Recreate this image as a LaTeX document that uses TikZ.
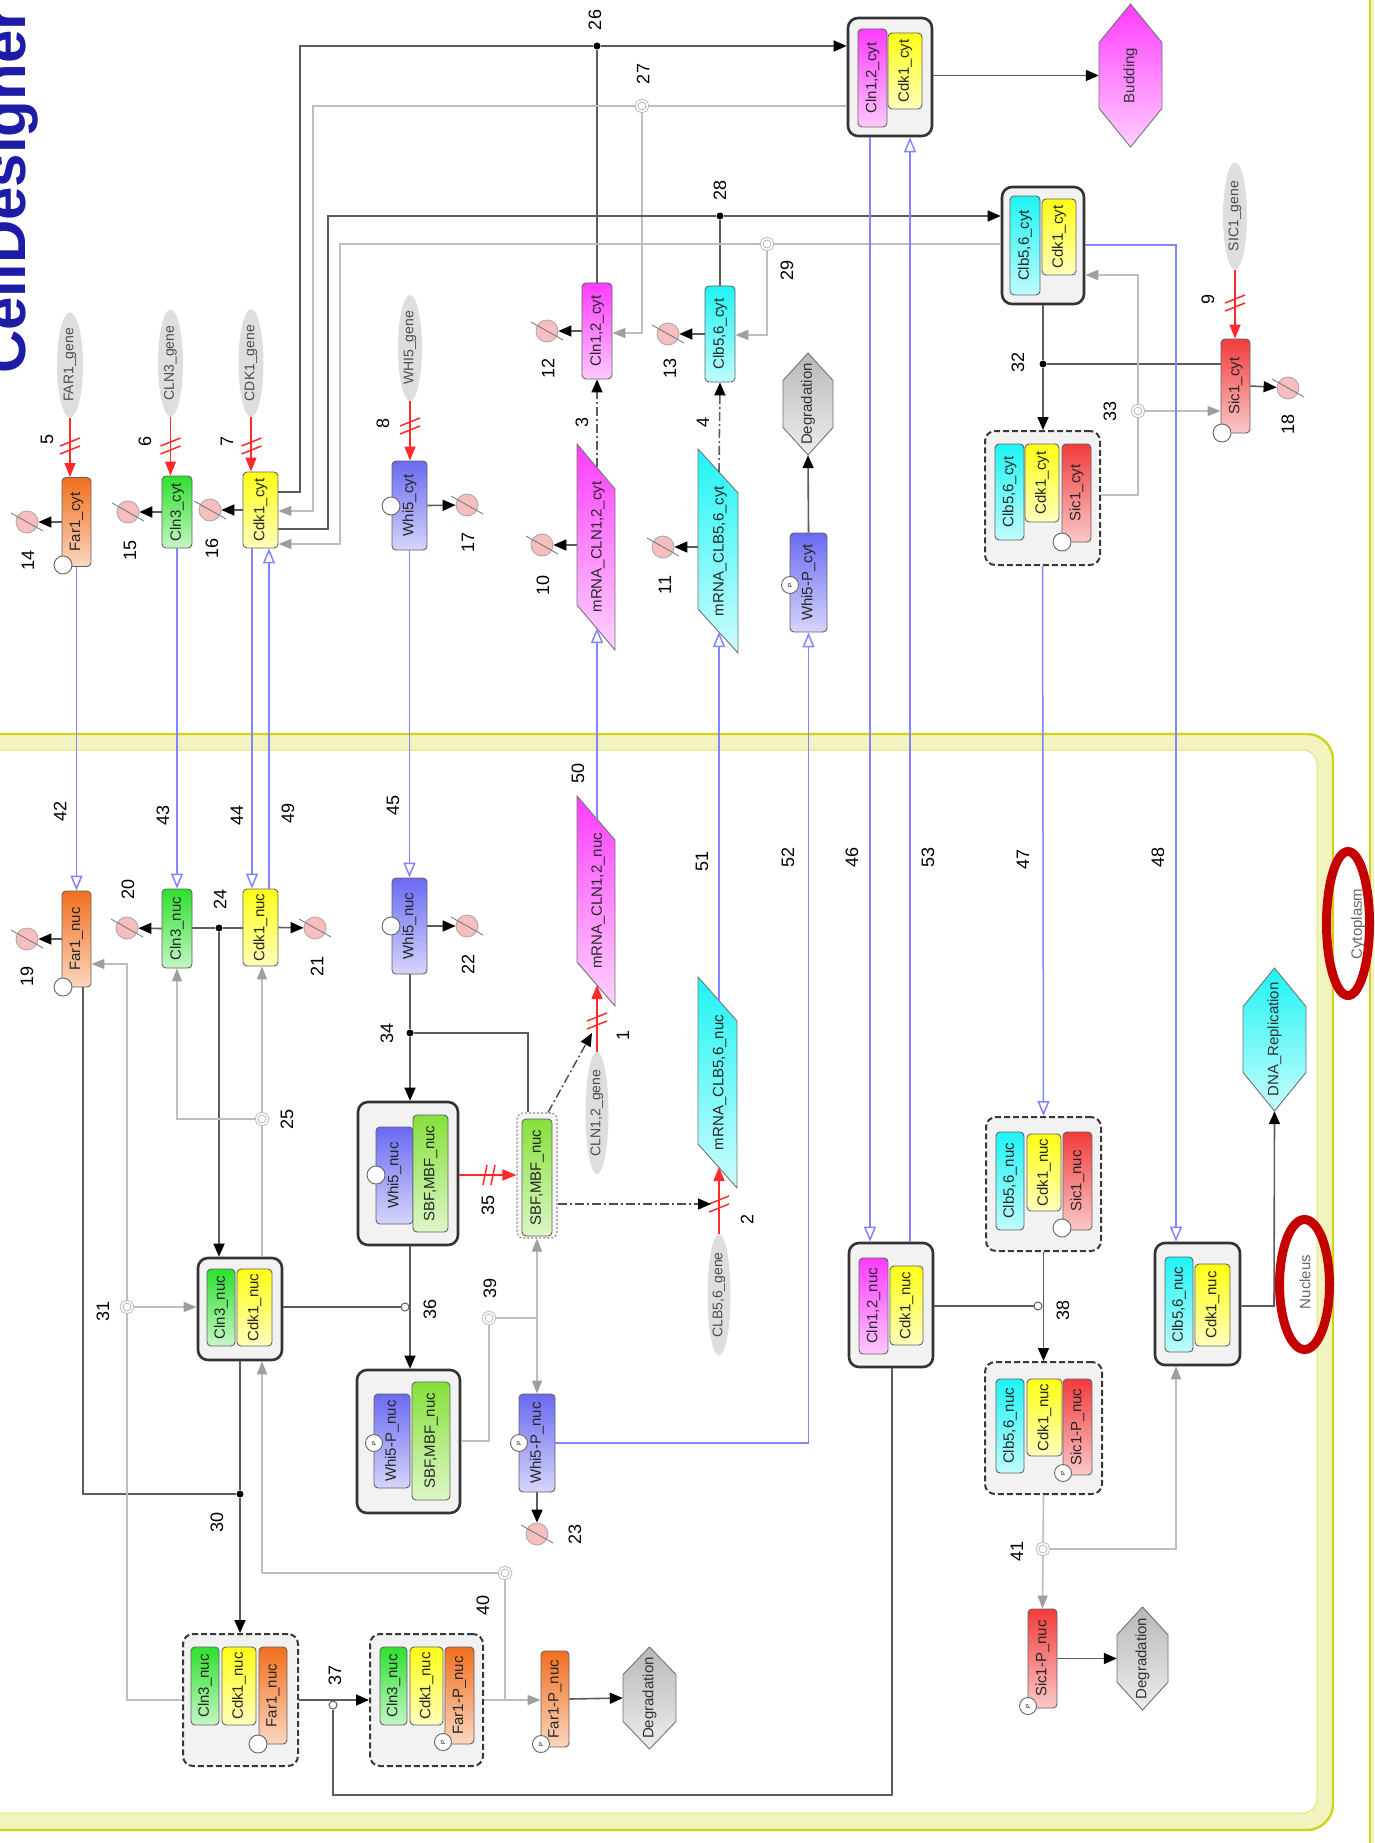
\documentclass[tikz,border=0pt]{standalone}
\usepackage{fontspec}
\setmainfont{Liberation Sans}
\usetikzlibrary{arrows.meta,shapes.geometric}
\definecolor{dkline}{HTML}{5C5C5C}
\definecolor{ltline}{HTML}{BEBEBE}
\definecolor{blline}{HTML}{8484FF}
\definecolor{rdline}{HTML}{FF2A2A}
\definecolor{cOr}{HTML}{F26F1E}
\definecolor{cGr}{HTML}{2EE02E}
\definecolor{cYe}{HTML}{FFFF14}
\definecolor{cBl}{HTML}{6A6AF2}
\definecolor{cMa}{HTML}{FF3CFF}
\definecolor{cCy}{HTML}{1EF4F4}
\definecolor{cRd}{HTML}{F23C3C}
\definecolor{cSb}{HTML}{86E03A}
\definecolor{cGy}{HTML}{B8B8B8}
\definecolor{titleblue}{HTML}{1C1CA6}
\definecolor{nucband}{HTML}{F3F3C0}
\definecolor{nucedge}{HTML}{D2D21A}
\definecolor{nucinner}{HTML}{E2E27A}
\definecolor{ringred}{HTML}{C40000}
\definecolor{degpink}{HTML}{F6BEBE}
\newcommand{\rt}[1]{\rotatebox{90}{#1}}
\tikzset{
  sp/.style={draw=black!62, line width=0.9pt, rounded corners=4pt, inner sep=0pt, font=\fontsize{15}{15}\selectfont, text=black!85},
  cpx/.style={draw=black!80, line width=2.6pt, rounded corners=10pt, fill=black!5, inner sep=0pt},
  cpxd/.style={draw=black!78, line width=2pt, dash pattern=on 6pt off 3pt, rounded corners=10pt, fill=black!5, inner sep=0pt},
  gene/.style={ellipse, fill=black!13, draw=none, inner sep=0pt, font=\fontsize{14}{14}\selectfont, text=black!70},
  numl/.style={inner sep=0pt, font=\fontsize{18}{18}\selectfont, text=black},
  emptyc/.style={circle, draw=black!60, fill=white, line width=0.9pt, minimum size=18pt, inner sep=0pt},
  pcirc/.style={circle, draw=black!60, fill=white, line width=0.9pt, minimum size=17pt, inner sep=0pt, font=\fontsize{6}{6}\selectfont},
  degs/.style={circle, draw=black!35, fill=degpink, line width=0.8pt, minimum size=22pt, inner sep=0pt},
  jdot/.style={circle, fill=black, inner sep=0pt, minimum size=7pt},
  jgray/.style={circle, draw=ltline, double=white, double distance=1.6pt, line width=1pt, fill=white, inner sep=0pt, minimum size=11pt},
  jmod/.style={circle, draw=dkline, fill=white, line width=1pt, inner sep=0pt, minimum size=8pt},
  dk/.style={draw=dkline, line width=1.6pt},
  lt/.style={draw=ltline, line width=1.6pt},
  bl/.style={draw=blline, line width=1.5pt},
  rd/.style={draw=rdline, line width=1.5pt},
  arrk/.style={-{Triangle[length=13pt,width=11pt,color=black]}},
  arrg/.style={-{Triangle[length=13pt,width=10pt,color=black!38]}},
  arrr/.style={-{Triangle[length=14pt,width=11pt,color=rdline]}},
  arro/.style={-{Triangle[open,length=15pt,width=12pt,color=blline,fill=white]}},
  dashdot/.style={dash pattern=on 9pt off 3pt on 2pt off 3pt},
}
\newcommand{\spc}[6]{\node[sp, top color=#5, bottom color=#5!28!white, minimum width=#3pt, minimum height=#4pt] (#1) at (#2) {\rt{#6}};}
\newcommand{\gene}[5]{\node[gene, minimum width=#3pt, minimum height=#4pt] (#1) at (#2) {\rt{#5}};}
\newcommand{\dsym}[2]{\node[degs] (#1) at (#2) {}; \draw[black!55, line width=0.8pt] (#1.center) ++(-16,-9) -- ++(32,18);}
\newcommand{\lab}[3]{\node[numl] (#1) at (#2) {\rt{#3}};}
\newcommand{\hexn}[7]{\path[draw=black!55, line width=0.9pt, top color=#6, bottom color=#6!25!white] ({#2},{#3-#5/2}) -- ({#2+#4/2},{#3-#5*0.23}) -- ({#2+#4/2},{#3+#5*0.23}) -- ({#2},{#3+#5/2}) -- ({#2-#4/2},{#3+#5*0.23}) -- ({#2-#4/2},{#3-#5*0.23}) -- cycle;
  \node[inner sep=0pt, minimum width=#4pt, minimum height=#5pt, font=\fontsize{15}{15}\selectfont, text=black!80] (#1) at (#2,#3) {\rt{#7}};}
\newcommand{\mrna}[8]{\path[draw=black!55, line width=0.9pt, top color=#7, bottom color=#7!22!white] (#2,#4) -- (#3,{#4+#6}) -- (#3,{#5+#6}) -- (#2,#5) -- cycle;
  \node[inner sep=0pt, font=\fontsize{15}{15}\selectfont, text=black!85] (#1) at ({(#2+#3)/2+2},{(#4+#5+#6)/2}) {\rt{#8}};}
\newcommand{\hashv}[2]{\draw[rd] ({#1-10},{#2+8}) -- ({#1+10},{#2}) ({#1-10},{#2}) -- ({#1+10},{#2-8});}
\newcommand{\hashh}[2]{\draw[rd] ({#1-7},{#2+10}) -- ({#1-3},{#2-10}) ({#1+1},{#2+10}) -- ({#1+5},{#2-10});}
\begin{document}
\begin{tikzpicture}[x=1pt,y=-1pt]
\clip (0,0) rectangle (1374,1843);
\useasboundingbox (0,0) rectangle (1374,1843);
\fill[white] (0,0) rectangle (1374,1843);
% compartments
\path[fill=nucband, draw=nucedge, line width=2.4pt, rounded corners=26pt] (-30,734) rectangle (1333,1830);
\path[fill=white, draw=nucinner, line width=1pt, rounded corners=14pt] (-14,750) rectangle (1317,1813);
\fill[nucband] (1370,-5) rectangle (1380,1850);
\draw[nucedge, line width=2pt] (1370,-5) -- (1370,1850);
% title
\node[anchor=base west, rotate=90, inner sep=0pt, font=\fontsize{60}{60}\selectfont\bfseries, text=titleblue] (title) at (25,374) {CellDesigner};
% compartment labels
\node[inner sep=0pt, font=\fontsize{15}{15}\selectfont, text=black!60] (cytlab) at (1358,924) {\rt{Cytoplasm}};
\node[inner sep=0pt, font=\fontsize{15}{15}\selectfont, text=black!60] (nuclab) at (1305,1282) {\rt{Nucleus}};
\draw[ringred, line width=9pt] (1348,923.5) ellipse [x radius=21.5, y radius=72];
\draw[ringred, line width=9pt] (1304.5,1284.5) ellipse [x radius=25, y radius=65];

% ---------- genes
\gene{far1g}{70,365}{26}{105}{FAR1\_gene}
\gene{cln3g}{170.5,363}{25}{107}{CLN3\_gene}
\gene{cdk1g}{251,363}{25}{107}{CDK1\_gene}
\gene{whi5g}{410,348}{24}{106}{WHI5\_gene}
\gene{sic1g}{1235,216}{24}{107}{SIC1\_gene}
\gene{cln12g}{597,1113}{23}{107}{CLN1,2\_gene}
\gene{clb56g}{719,1295}{23}{110}{CLB5,6\_gene}

% ---------- cytoplasm species
\spc{far1c}{76.5,522}{29}{89}{cOr}{Far1\_cyt}
\node[emptyc] (ec1) at (63,565) {};
\spc{cln3c}{177,512}{30}{72}{cGr}{Cln3\_cyt}
\spc{cdk1c}{260.5,510}{35}{76}{cYe}{Cdk1\_cyt}
\spc{whi5c}{409.5,505.5}{35}{89}{cBl}{Whi5\_cyt}
\node[emptyc] (ec2) at (391,506) {};
\spc{cln12c}{597,331}{30}{96}{cMa}{Cln1,2\_cyt}
\spc{clb56c}{720,334}{30}{96}{cCy}{Clb5,6\_cyt}
\spc{whi5pc}{808.5,582.5}{37}{99}{cBl}{Whi5-P\_cyt}
\node[pcirc] (pc1) at (790,585) {\rt{P}};
\spc{sic1c}{1235.5,386}{29}{94}{cRd}{Sic1\_cyt}
\node[emptyc] (ec3) at (1222,433) {};
\mrna{mcc}{577}{615}{444}{605}{45}{cMa}{mRNA\_CLN1,2\_cyt}
\mrna{mbc}{698}{738}{449}{609}{44}{cCy}{mRNA\_CLB5,6\_cyt}
\hexn{degc}{808}{404}{50}{102}{cGy}{Degradation}
\hexn{bud}{1130.5}{75.5}{63}{143}{cMa}{Budding}
% cytoplasm complexes
\node[cpx, minimum width=84pt, minimum height=118pt] (cxA) at (890,77) {};
\spc{a1}{872.5,78}{29}{98}{cMa}{Cln1,2\_cyt}
\spc{a2}{905,71}{34}{76}{cYe}{Cdk1\_cyt}
\node[cpx, minimum width=82pt, minimum height=117pt] (cxB) at (1043,245.5) {};
\spc{b1}{1025,245.5}{30}{99}{cCy}{Clb5,6\_cyt}
\spc{b2}{1059,237}{34}{76}{cYe}{Cdk1\_cyt}
\node[cpxd, minimum width=115pt, minimum height=134pt] (tric) at (1042.5,498) {};
\spc{t1}{1009.5,492}{29}{96}{cCy}{Clb5,6\_cyt}
\spc{t2}{1042,483}{34}{78}{cYe}{Cdk1\_cyt}
\spc{t3}{1076.5,493}{29}{98}{cRd}{Sic1\_cyt}
\node[emptyc] (ec4) at (1062,542) {};

% ---------- nucleus species
\spc{far1n}{76.5,939}{29}{96}{cOr}{Far1\_nuc}
\node[emptyc] (ec5) at (63,987) {};
\spc{cln3n}{177,928.5}{30}{79}{cGr}{Cln3\_nuc}
\spc{cdk1n}{260.5,927.5}{35}{77}{cYe}{Cdk1\_nuc}
\spc{whi5n}{409.5,926}{35}{96}{cBl}{Whi5\_nuc}
\node[emptyc] (ec6) at (391,926) {};
\mrna{mcn}{577}{615}{796}{962}{44}{cMa}{mRNA\_CLN1,2\_nuc}
\mrna{mbn}{698}{737}{977}{1144}{44}{cCy}{mRNA\_CLB5,6\_nuc}
\node[draw=black!45, line width=1.1pt, dash pattern=on 2pt off 2pt, rounded corners=6pt, fill=black!4, minimum width=40pt, minimum height=125pt, inner sep=0pt] (sbfo) at (537,1175.5) {};
\spc{sbfn}{537,1177.5}{30}{117}{cSb}{SBF,MBF\_nuc}
\spc{whi5pn}{537,1443}{36}{98}{cBl}{Whi5-P\_nuc}
\node[pcirc] (pc2) at (519,1443) {\rt{P}};
\spc{far1pn}{555,1699}{28}{96}{cOr}{Far1-P\_nuc}
\node[pcirc] (pc3) at (541,1744) {\rt{P}};
\spc{sic1pn}{1042.5,1658.5}{29}{99}{cRd}{Sic1-P\_nuc}
\node[pcirc] (pc4) at (1028,1706) {\rt{P}};
\hexn{degn1}{649.5}{1698}{53}{102}{cGy}{Degradation}
\hexn{degn2}{1142.5}{1658.5}{51}{103}{cGy}{Degradation}
\hexn{dna}{1274.5}{1039.5}{63}{143}{cCy}{DNA\_Replication}
% nucleus complexes
\node[cpx, minimum width=100pt, minimum height=143pt] (cxW) at (408,1173.5) {};
\spc{w1}{394.5,1175.5}{37}{97}{cBl}{Whi5\_nuc}
\node[emptyc] (ec7) at (376,1175) {};
\spc{w2}{430.5,1173.5}{35}{117}{cSb}{SBF,MBF\_nuc}
\node[cpx, minimum width=103pt, minimum height=143pt] (cxWP) at (408.5,1441.5) {};
\spc{wp1}{392,1441}{36}{94}{cBl}{Whi5-P\_nuc}
\node[pcirc] (pc5) at (374,1443) {\rt{P}};
\spc{wp2}{431,1441}{38}{118}{cSb}{SBF,MBF\_nuc}
\node[cpx, minimum width=84pt, minimum height=102pt] (cxC) at (240,1309) {};
\spc{c1}{221,1307.5}{28}{77}{cGr}{Cln3\_nuc}
\spc{c2}{254.5,1307.5}{35}{77}{cYe}{Cdk1\_nuc}
\node[cpxd, minimum width=115pt, minimum height=132pt] (trf) at (240.5,1700) {};
\spc{f1}{205,1686}{28}{78}{cGr}{Cln3\_nuc}
\spc{f2}{239,1686}{34}{78}{cYe}{Cdk1\_nuc}
\spc{f3}{273,1695.5}{28}{97}{cOr}{Far1\_nuc}
\node[emptyc] (ec8) at (258,1744) {};
\node[cpxd, minimum width=113pt, minimum height=132pt] (trfp) at (426.5,1700) {};
\spc{g1}{393.5,1686}{27}{78}{cGr}{Cln3\_nuc}
\spc{g2}{426.5,1686}{33}{78}{cYe}{Cdk1\_nuc}
\spc{g3}{459.5,1695.5}{29}{97}{cOr}{Far1-P\_nuc}
\node[pcirc] (pc6) at (443,1742) {\rt{P}};
\node[cpx, minimum width=84pt, minimum height=124pt] (cxN) at (891,1305) {};
\spc{n1}{873.5,1306}{29}{96}{cMa}{Cln1,2\_nuc}
\spc{n2}{906.5,1305.5}{33}{79}{cYe}{Cdk1\_nuc}
\node[cpxd, minimum width=115pt, minimum height=134pt] (trin) at (1043.5,1184) {};
\spc{s1}{1010,1181}{28}{98}{cCy}{Clb5,6\_nuc}
\spc{s2}{1044,1172.5}{34}{77}{cYe}{Cdk1\_nuc}
\spc{s3}{1077.5,1181}{29}{98}{cRd}{Sic1\_nuc}
\node[emptyc] (ec9) at (1062,1228) {};
\node[cpxd, minimum width=117pt, minimum height=132pt] (trinp) at (1043.5,1428) {};
\spc{p1}{1010,1426}{28}{94}{cCy}{Clb5,6\_nuc}
\spc{p2}{1044.5,1417.5}{35}{77}{cYe}{Cdk1\_nuc}
\spc{p3}{1077.5,1427}{29}{96}{cRd}{Sic1-P\_nuc}
\node[pcirc] (pc7) at (1063,1473) {\rt{P}};
\node[cpx, minimum width=85pt, minimum height=122pt] (cxM) at (1197.5,1304) {};
\spc{m1}{1179,1304.5}{28}{95}{cCy}{Clb5,6\_nuc}
\spc{m2}{1212.5,1305}{35}{82}{cYe}{Cdk1\_nuc}

% ---------- degradation symbols
\dsym{d14}{27,522}
\dsym{d15}{128,512}
\dsym{d16}{210,510}
\dsym{d17}{467,505}
\dsym{d12}{547,331}
\dsym{d13}{668,334}
\dsym{d10}{542,545}
\dsym{d11}{663,547}
\dsym{d18}{1288,388}
\dsym{d19}{27,939}
\dsym{d20}{127,928}
\dsym{d21}{315,928}
\dsym{d22}{467,926}
\dsym{d23}{537,1534}

% ---------- junctions
\node[jdot] (j26) at (597,46) {};
\node[jgray] (j27) at (642,106) {};
\node[jdot] (j28) at (720,216) {};
\node[jgray] (j29) at (767,244) {};
\node[jdot] (j32) at (1043,364) {};
\node[jgray] (j33) at (1138,411) {};
\node[jdot] (j24) at (219,928) {};
\node[jgray] (j25) at (262,1119) {};
\node[jdot] (j34) at (410,1033) {};
\node[jdot] (j30) at (240,1494) {};
\node[jgray] (j31) at (127,1307) {};
\node[jgray] (j39) at (489,1318) {};
\node[jgray] (j40) at (505,1573) {};
\node[jgray] (j41) at (1043,1549) {};
\node[jmod] (m36) at (405,1307) {};
\node[jmod] (m37) at (333,1705) {};
\node[jmod] (m38) at (1038,1306) {};
\coordinate (mcc_t) at (597,467);
\coordinate (mcc_b) at (597,628);
\coordinate (mcc_l) at (577,545);
\coordinate (mbc_t) at (719,472);
\coordinate (mbc_b) at (719,632);
\coordinate (mbc_l) at (698,547);
\coordinate (mcn_t) at (597,819);
\coordinate (mcn_b) at (597,985);
\coordinate (mbn_t) at (719,1001);
\coordinate (mbn_b) at (719,1167);
\coordinate (k39) at (537,1318);
\coordinate (k40) at (505,1700);

% ---------- transcription (red)
\draw[rd,arrr] (far1g.south) -- (far1g.south |- far1c.north);
\draw[rd,arrr] (cln3g.south) -- (cln3g.south |- cln3c.north);
\draw[rd,arrr] (cdk1g.south) -- (cdk1g.south |- cdk1c.north);
\draw[rd,arrr] (whi5g.south) -- (whi5g.south |- whi5c.north);
\draw[rd,arrr] (sic1g.south) -- (sic1g.south |- sic1c.north);
\draw[rd,arrr] (cln12g.north) -- (mcn_b);
\draw[rd,arrr] (clb56g.north) -- (mbn_b);
\draw[rd,arrr] (cxW.east |- 0,1175) -- (sbfo.west |- 0,1175);
\hashv{70}{446}
\hashv{170.5}{446}
\hashv{251.5}{446}
\hashv{410}{426}
\hashv{1235}{303}
\hashv{597}{1021}
\hashv{719}{1204}
\hashh{490}{1175}

% ---------- degradation reactions
\draw[dk,arrk] (far1c.west) -- (d14);
\draw[dk,arrk] (cln3c.west) -- (d15);
\draw[dk,arrk] (cdk1c.west) -- (d16);
\draw[dk,arrk] (whi5c.east) -- (d17);
\draw[dk,arrk] (cln12c.west) -- (d12);
\draw[dk,arrk] (clb56c.west) -- (d13);
\draw[dk,arrk] (mcc_l) -- (d10);
\draw[dk,arrk] (mbc_l) -- (d11);
\draw[dk,arrk] (sic1c.east) -- (d18);
\draw[dk,arrk] (far1n.west) -- (d19);
\draw[dk,arrk] (cln3n.west) -- (d20);
\draw[dk,arrk] (cdk1n.east) -- (d21);
\draw[dk,arrk] (whi5n.east) -- (d22);
\draw[dk,arrk] (whi5pn.south) -- (d23);
\draw[dk,arrk] (whi5pc.north) -- (degc.south);
\draw[dk,arrk] (far1pn.east) -- (degn1.west);
\draw[dk,arrk] (sic1pn.east) -- (degn2.west);

% ---------- translation and activation (dash-dot)
\draw[dk,dashdot,arrk] (mcc_t) -- (cln12c.south);
\draw[dk,dashdot,arrk] (mbc_t) -- (clb56c.south);
\draw[black!70,line width=1.4pt,dashdot,arrk] (sbfo.north -| 548,0) -- (592,1033);
\draw[black!70,line width=1.4pt,dashdot,arrk] (sbfo.east |- 0,1204) -- (711,1204);

% ---------- cytoplasm complex reactions
\draw[dk] (cdk1c.east |- 0,492) -- (300,492) -- (300,46) -- (j26);
\draw[dk,arrk] (j26) -- (cxA.west |- j26);
\draw[dk] (cln12c.north) -- (j26);
\draw[lt,arrg] (cxA.west |- 0,106) -- (j27) -- (313,106) -- (313,511) -- (cdk1c.east |- 0,511);
\draw[lt,arrg] (j27) -- (642,333) -- (cln12c.east |- 0,333);
\draw[dk] (cdk1c.east |- 0,529) -- (328,529) -- (328,216) -- (j28);
\draw[dk,arrk] (j28) -- (cxB.west |- j28);
\draw[dk] (clb56c.north) -- (j28);
\draw[lt,arrg] (cxB.west |- 0,244) -- (j29) -- (340,244) -- (340,544) -- (cdk1c.east |- 0,544);
\draw[lt,arrg] (j29) -- (767,335) -- (clb56c.east |- 0,335);
\draw[dk,arrk] (cxA.east |- bud.west) -- (bud.west);
\draw[dk] (cxB.south) -- (j32);
\draw[dk,arrk] (j32) -- (tric.north -| j32);
\draw[dk] (sic1c.west |- j32) -- (j32);
\draw[lt] (tric.east |- 0,495) -- (1138,495) -- (j33);
\draw[lt,arrg] (j33) -- (1138,275) -- (cxB.east |- 0,275);
\draw[lt,arrg] (j33) -- (sic1c.west |- j33);

% ---------- transport (blue)
\draw[bl,arro] (far1c.south) -- (far1n.north);
\draw[bl,arro] (cln3c.south) -- (cln3n.north);
\draw[bl,arro] (cdk1c.south -| 252,0) -- (cdk1n.north -| 252,0);
\draw[bl,arro] (cdk1n.north -| 269,0) -- (cdk1c.south -| 269,0);
\draw[bl,arro] (whi5c.south) -- (whi5n.north);
\draw[bl,arro] (mcn_t) -- (mcc_b);
\draw[bl,arro] (mbn_t) -- (mbc_b);
\draw[bl,arro] (whi5pn.east) -| (whi5pc.south);
\draw[bl,arro] (cxA.south -| 870,0) -- (cxN.north -| 870,0);
\draw[bl,arro] (cxN.north -| 910,0) -- (cxA.south -| 910,0);
\draw[bl,arro] (tric.south) -- (trin.north);
\draw[bl,arro] (cxB.east |- 0,245) -| (cxM.north -| 1176,0);

% ---------- nucleus reactions
\draw[dk] (cln3n.east |- j24) -- (j24) -- (cdk1n.west |- j24);
\draw[dk,arrk] (j24) -- (cxC.north -| j24);
\draw[lt] (cxC.north -| j25) -- (j25);
\draw[lt,arrg] (j25) -- (cdk1n.south -| j25);
\draw[lt,arrg] (j25) -- (cln3n.south |- j25) -- (cln3n.south);
\draw[dk] (whi5n.south -| j34) -- (j34);
\draw[dk,arrk] (j34) -- (cxW.north -| j34);
\draw[dk] (j34) -- (528,1033) -- (sbfo.north -| 528,0);
\draw[dk,arrk] (cxW.south -| 410,0) -- (cxWP.north -| 410,0);
\draw[dk] (cxC.east |- m36) -- (m36);
\draw[lt] (cxWP.east |- 0,1441) -- (489,1441) -- (j39) -- (k39);
\draw[lt,arrg] (k39) -- (sbfo.south);
\draw[lt,arrg] (k39) -- (whi5pn.north);
\draw[dk] (far1n.south -| 83,0) -- (83,1494) -- (j30);
\draw[dk] (cxC.south) -- (j30);
\draw[dk,arrk] (j30) -- (trf.north -| j30);
\draw[lt] (trf.west |- 0,1700) -- (127,1700) -- (j31);
\draw[lt,arrg] (j31) -- (127,964) -- (far1n.east |- 0,964);
\draw[lt,arrg] (j31) -- (cxC.west |- j31);
\draw[dk,arrk] (trf.east |- 0,1700) -- (trfp.west |- 0,1700);
\draw[dk] (cxN.south -| 892,0) -- (892,1795) -- (333,1795) -- (m37);
\draw[lt] (trfp.east |- k40) -- (k40);
\draw[lt,arrg] (k40) -- (far1pn.west |- k40);
\draw[lt] (k40) -- (j40) -- (262,1573);
\draw[lt,arrg] (262,1573) -- (cxC.south -| 262,0);
\draw[dk,arrk] (trin.south) -- (trinp.north);
\draw[dk] (cxN.east |- m38) -- (m38);
\draw[lt] (trinp.south) -- (j41);
\draw[lt,arrg] (j41) -- (sic1pn.north);
\draw[lt,arrg] (j41) -- (1176,1549) -- (cxM.south -| 1176,0);
\draw[dk,arrk] (cxM.east |- 0,1306) -- (1274,1306) -- (dna.south);

% ---------- reaction numbers
\lab{l1}{623,1035}{1}
\lab{l2}{747,1219}{2}
\lab{l3}{582,422}{3}
\lab{l4}{703,422}{4}
\lab{l5}{47,439}{5}
\lab{l6}{145,441}{6}
\lab{l7}{227,441}{7}
\lab{l8}{383,423}{8}
\lab{l9}{1208,299}{9}
\lab{l10}{543,585}{10}
\lab{l11}{665,585}{11}
\lab{l12}{548,368}{12}
\lab{l13}{670,368}{13}
\lab{l14}{28,560}{14}
\lab{l15}{130,550}{15}
\lab{l16}{212,548}{16}
\lab{l17}{468,542}{17}
\lab{l18}{1288,424}{18}
\lab{l19}{27,976}{19}
\lab{l20}{128,889}{20}
\lab{l21}{317,966}{21}
\lab{l22}{468,964}{22}
\lab{l23}{575,1534}{23}
\lab{l24}{220,899}{24}
\lab{l25}{287,1119}{25}
\lab{l26}{595,20}{26}
\lab{l27}{643,74}{27}
\lab{l28}{720,190}{28}
\lab{l29}{787,270}{29}
\lab{l30}{217,1522}{30}
\lab{l31}{103,1311}{31}
\lab{l32}{1018,362}{32}
\lab{l33}{1110,411}{33}
\lab{l34}{387,1033}{34}
\lab{l35}{488,1205}{35}
\lab{l36}{430,1309}{36}
\lab{l37}{335,1675}{37}
\lab{l38}{1063,1310}{38}
\lab{l39}{490,1288}{39}
\lab{l40}{483,1605}{40}
\lab{l41}{1017,1551}{41}
\lab{l42}{60,811}{42}
\lab{l43}{163,815}{43}
\lab{l44}{237,815}{44}
\lab{l45}{393,805}{45}
\lab{l46}{852,857}{46}
\lab{l47}{1023,859}{47}
\lab{l48}{1158,857}{48}
\lab{l49}{288,813}{49}
\lab{l50}{578,773}{50}
\lab{l51}{702,861}{51}
\lab{l52}{788,857}{52}
\lab{l53}{928,857}{53}
\end{tikzpicture}
\end{document}
